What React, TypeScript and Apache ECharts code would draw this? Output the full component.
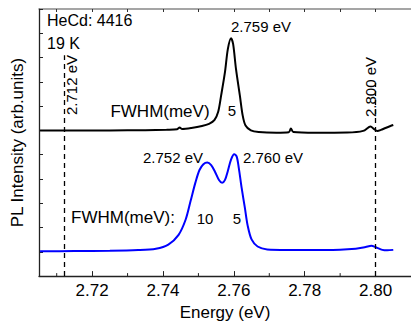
import React, { useEffect, useRef } from "react";
import * as echarts from "echarts";

const blackEnergy = [2.7053, 2.715, 2.725, 2.735, 2.741, 2.744, 2.7447, 2.7454, 2.748, 2.751, 2.753, 2.7545, 2.7556, 2.7564, 2.7575, 2.7583, 2.7592, 2.7598, 2.7606, 2.7617, 2.7625, 2.7633, 2.7648, 2.767, 2.772, 2.7755, 2.7761, 2.7768, 2.783, 2.792, 2.7965, 2.7986, 2.7995, 2.8005, 2.8015, 2.8028, 2.8042, 2.805];
const blackIntensity = [6.0, 6.0, 6.0, 6.01, 6.03, 6.05, 6.12, 6.06, 6.1, 6.18, 6.27, 6.42, 6.78, 7.43, 8.41, 9.35, 9.8, 9.55, 8.53, 7.43, 6.61, 6.2, 6.0, 5.93, 5.9, 5.92, 6.08, 5.93, 5.9, 5.91, 5.98, 6.16, 6.06, 5.98, 6.02, 6.1, 6.18, 6.22];

const blueEnergy = [2.7053, 2.715, 2.725, 2.733, 2.738, 2.7415, 2.7444, 2.7464, 2.7478, 2.7492, 2.7503, 2.7514, 2.7525, 2.7536, 2.7547, 2.7558, 2.7567, 2.7575, 2.7583, 2.7592, 2.7601, 2.7608, 2.7614, 2.7622, 2.7631, 2.7639, 2.765, 2.7667, 2.7694, 2.775, 2.786, 2.7944, 2.7972, 2.7988, 2.8002, 2.8019, 2.8033, 2.805];
const blueIntensity = [1.02, 1.03, 1.04, 1.07, 1.13, 1.3, 1.7, 2.33, 3.1, 3.88, 4.37, 4.61, 4.68, 4.57, 4.29, 3.96, 3.84, 3.96, 4.33, 4.8, 5.02, 4.92, 4.45, 3.63, 2.82, 2.08, 1.51, 1.22, 1.1, 1.08, 1.08, 1.13, 1.2, 1.25, 1.18, 1.08, 1.06, 1.08];

const majorTicks = [2.72, 2.74, 2.76, 2.78, 2.8];
const minorTicks = [2.71, 2.73, 2.75, 2.77, 2.79];
const topTicks = [2.71, 2.72, 2.73, 2.74, 2.75, 2.76, 2.77, 2.78, 2.79, 2.8];
const dashedLines = [
  { x: 2.712, top: 9.1 },
  { x: 2.8, top: 7.95 },
];

const FONT = "Liberation Sans, Arial, sans-serif";

export default function App() {
  const ref = useRef<HTMLDivElement>(null);
  useEffect(() => {
    if (!ref.current) return;
    const chart = echarts.init(ref.current, null, { renderer: "svg" });
    const txt = (text: string, x: number, y: number, size: number, extra: any = {}) => ({
      type: "text",
      x,
      y,
      style: {
        text,
        fontFamily: FONT,
        fontSize: size,
        fill: "#000",
        align: "center",
        verticalAlign: "middle",
      },
      ...extra,
    });
    chart.setOption({
      animation: false,
      backgroundColor: "#fff",
      grid: { left: 39, top: 9, width: 378, height: 270, containLabel: false },
      xAxis: [
        {
          type: "value",
          position: "bottom",
          min: 2.705,
          max: 2.81,
          axisLine: { show: true, lineStyle: { color: "#222", width: 1.3 } },
          axisTick: { show: true, inside: true, length: 5, customValues: majorTicks, lineStyle: { color: "#222" } },
          axisLabel: {
            show: true,
            customValues: majorTicks,
            formatter: (v: number) => v.toFixed(2),
            fontFamily: FONT,
            fontSize: 17,
            color: "#000",
            margin: 6,
          },
          splitLine: { show: false },
          name: "Energy (eV)",
          nameLocation: "middle",
          nameGap: 27,
          nameTextStyle: { fontFamily: FONT, fontSize: 17, color: "#000" },
        },
        {
          type: "value",
          position: "top",
          min: 2.705,
          max: 2.81,
          axisLine: { show: true, lineStyle: { color: "#888", width: 1.5 } },
          axisTick: { show: true, inside: true, length: 3, customValues: topTicks, lineStyle: { color: "#333" } },
          axisLabel: { show: false },
          splitLine: { show: false },
        },
      ],
      yAxis: {
        type: "value",
        min: 0,
        max: 11,
        interval: 1,
        axisLine: { show: true, lineStyle: { color: "#222", width: 1.3 } },
        axisTick: { show: true, inside: true, length: 4, lineStyle: { color: "#222" } },
        axisLabel: { show: false },
        splitLine: { show: false },
        name: "PL Intensity (arb.units)",
        nameLocation: "middle",
        nameGap: 13,
        nameTextStyle: { fontFamily: FONT, fontSize: 17, color: "#000" },
      },
      series: [
        {
          type: "line",
          xAxisIndex: 0,
          data: blackEnergy.map((e, i) => [e, blackIntensity[i]]),
          showSymbol: false,
          smooth: 0.3,
          lineStyle: { color: "#000", width: 2 },
          markLine: {
            silent: true,
            symbol: "none",
            label: { show: false },
            lineStyle: { color: "#000", type: [5, 4], width: 1.3 },
            data: dashedLines.map((d) => [{ coord: [d.x, 0] }, { coord: [d.x, d.top] }]),
          },
        },
        {
          type: "line",
          xAxisIndex: 0,
          data: blueEnergy.map((e, i) => [e, blueIntensity[i]]),
          showSymbol: false,
          smooth: 0.3,
          lineStyle: { color: "#0000ff", width: 2 },
        },
        {
          type: "custom",
          xAxisIndex: 0,
          data: minorTicks.map((v) => [v, 0]),
          renderItem: (params: any, api: any) => {
            const p = api.coord([api.value(0), 0]);
            return {
              type: "line",
              shape: { x1: p[0], y1: p[1], x2: p[0], y2: p[1] - 3 },
              style: { stroke: "#222", lineWidth: 1 },
            };
          },
        },
      ],
      graphic: [
        {
          type: "text",
          left: 47,
          top: 12,
          style: { text: "HeCd: 4416", fontFamily: FONT, fontSize: 16, fill: "#000" },
        },
        {
          type: "text",
          left: 47,
          top: 35,
          style: { text: "19 K", fontFamily: FONT, fontSize: 16, fill: "#000" },
        },
        txt("2.712 eV", 71, 85, 15, { rotation: Math.PI / 2 }),
        txt("2.800 eV", 370, 87, 15, { rotation: Math.PI / 2 }),
        txt("2.759 eV", 261, 26, 15),
        txt("FWHM(meV)", 160, 111, 17),
        txt("5", 232, 110, 15),
        txt("2.752 eV", 173, 157, 15),
        txt("2.760 eV", 273, 157, 15),
        txt("FWHM(meV):", 123, 217, 17),
        txt("10", 205, 218, 15),
        txt("5", 237, 218, 15),
      ],
    });
    return () => chart.dispose();
  }, []);
  return <div ref={ref} style={{ width: 411, height: 326, position: "absolute", left: 0, top: 0 }} />;
}
